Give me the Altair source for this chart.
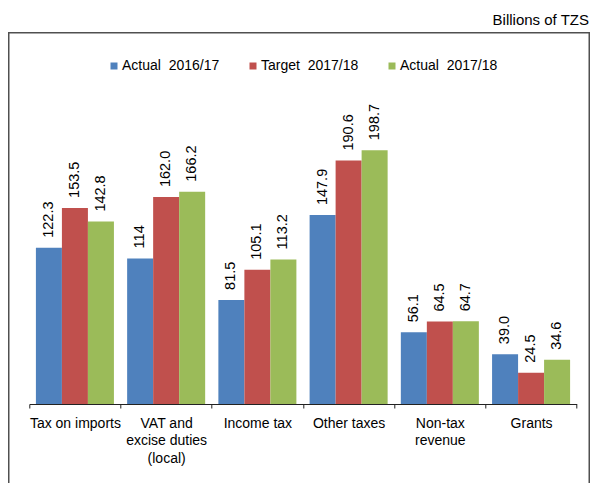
import altair as alt
import pandas as pd

# ---- data ----
CATEGORIES = ["Tax on imports", "VAT and excise duties (local)", "Income tax",
              "Other taxes", "Non-tax revenue", "Grants"]
LABEL_LINES = [["Tax on imports"], ["VAT and", "excise duties", "(local)"], ["Income tax"],
               ["Other taxes"], ["Non-tax", "revenue"], ["Grants"]]
SERIES = ["Actual 2016/17", "Target 2017/18", "Actual 2017/18"]
COLORS = ["#4F81BD", "#C0504D", "#9BBB59"]
ACTUAL_1617 = [122.3, 114.0, 81.5, 147.9, 56.1, 39.0]
TARGET_1718 = [153.5, 162.0, 105.1, 190.6, 64.5, 24.5]
ACTUAL_1718 = [142.8, 166.2, 113.2, 198.7, 64.7, 34.6]
TEXT_1617 = ["122.3", "114", "81.5", "147.9", "56.1", "39.0"]
TEXT_T1718 = ["153.5", "162.0", "105.1", "190.6", "64.5", "24.5"]
TEXT_1718 = ["142.8", "166.2", "113.2", "198.7", "64.7", "34.6"]
UNIT = "Billions of TZS"

rows = []
for s, vals, txts in zip(SERIES, [ACTUAL_1617, TARGET_1718, ACTUAL_1718],
                         [TEXT_1617, TEXT_T1718, TEXT_1718]):
    for c, v, t in zip(CATEGORIES, vals, txts):
        rows.append({"category": c, "series": s, "value": v, "label": t})
df = pd.DataFrame(rows)

# ---- layout (pixels) ----
L, T = 21.3, 92
W, H = 547.4, 304
SVG_W, SVG_H = 582, 475
R = SVG_W - L - W
B = SVG_H - T - H
FONT = "Liberation Sans"

expr = ""
for c, lines in zip(CATEGORIES, LABEL_LINES):
    arr = "[" + ",".join("'" + ln + "'" for ln in lines) + "]"
    expr += f"datum.label == '{c}' ? {arr} : "
expr += "datum.label"

x_enc = alt.X(
    "category:N", sort=CATEGORIES,
    scale=alt.Scale(paddingInner=0, paddingOuter=0),
    axis=alt.Axis(title=None, labelAngle=0, tickBand="extent", labelExpr=expr,
                  labelFont=FONT, labelFontSize=14, labelLineHeight=17.7,
                  labelColor="#000000", labelPadding=8, tickSize=4,
                  domainColor="#222222", tickColor="#222222", labelLimit=200),
)
xoff = alt.XOffset("series:N", sort=SERIES,
                   scale=alt.Scale(paddingInner=0, paddingOuter=0.254))
y_enc = alt.Y("value:Q", scale=alt.Scale(domain=[0, 238], nice=False, zero=True),
              axis=None)

base = alt.Chart(df).encode(x=x_enc, xOffset=xoff, y=y_enc)

bars = base.mark_bar().encode(
    color=alt.Color(
        "series:N", sort=SERIES,
        scale=alt.Scale(domain=SERIES, range=COLORS),
        legend=alt.Legend(
            title=None, orient="none", legendX=77.7, legendY=-41,
            direction="horizontal", symbolType="square", symbolSize=49,
            symbolStrokeWidth=0, labelFont=FONT, labelFontSize=14,
            labelColor="#000000", labelOffset=1, columnPadding=26,
            labelExpr="replace(datum.label, ' ', '\u00a0 ')",
        ),
    )
)

labels = base.mark_text(angle=270, align="left", baseline="middle", dx=10,
                        font=FONT, fontSize=14.5, color="#000000").encode(text="label:N")

box = alt.Chart(pd.DataFrame({"k": [0]})).mark_rect(
    fillOpacity=0, stroke="#505050", strokeWidth=1.5
).encode(
    x=alt.value(-L + 0.75), x2=alt.value(SVG_W - 0.75 - L),
    y=alt.value(24.7 - T), y2=alt.value(H + 200),
)

title = alt.Chart(pd.DataFrame({"t": [UNIT]})).mark_text(
    align="right", baseline="middle", font=FONT, fontSize=15, color="#000000"
).encode(text="t:N", x=alt.value(SVG_W - 1 - L), y=alt.value(12 - T))

chart = alt.layer(box, bars, labels, title).properties(
    width=W, height=H,
    autosize=alt.AutoSizeParams(type="none"),
    padding={"left": L, "top": T, "right": R, "bottom": B},
).configure_view(stroke="transparent")

chart.save("out.html", embed_options={"renderer": "svg", "actions": False})
